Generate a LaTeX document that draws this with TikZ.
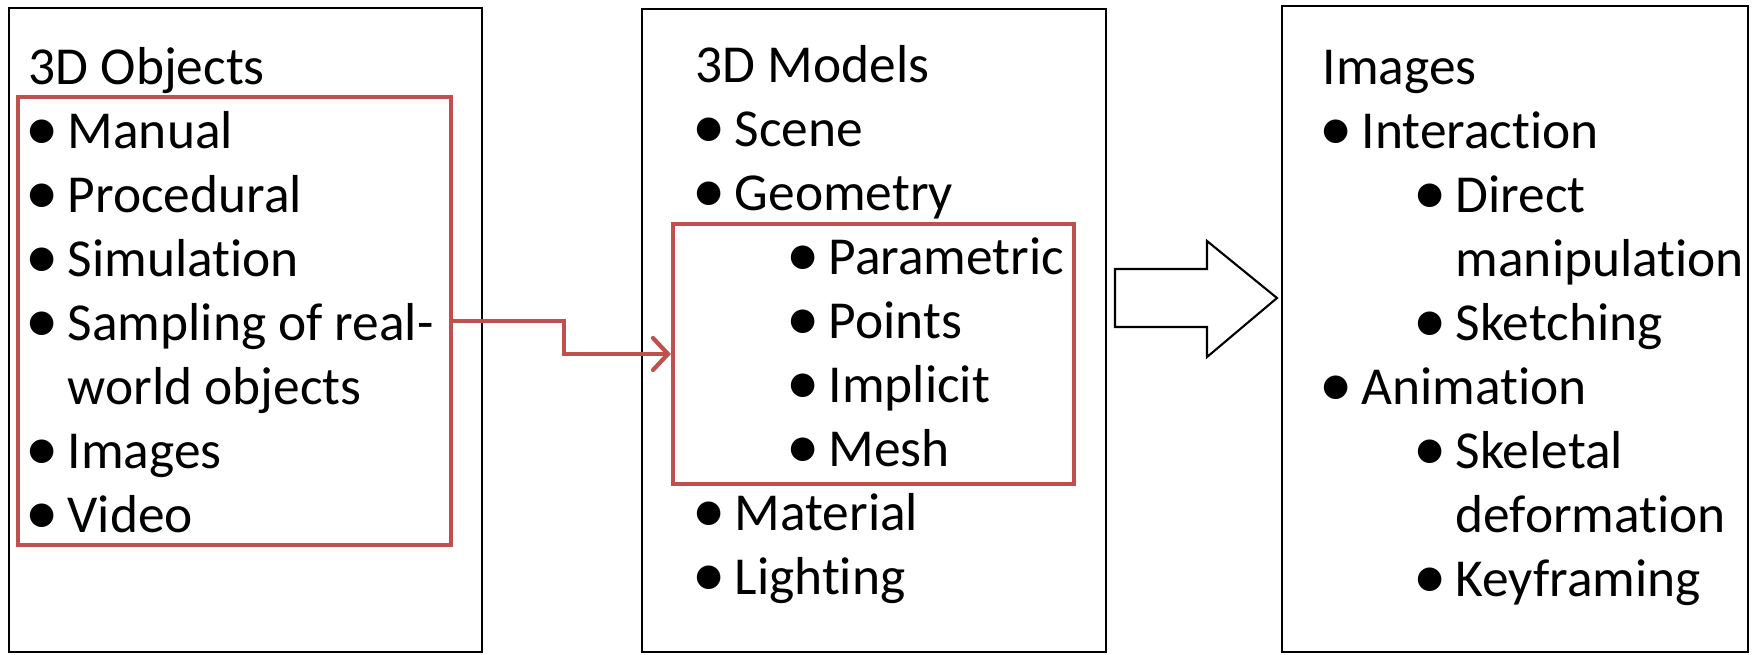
\documentclass[tikz,border=0pt]{standalone}
\usepackage{fontspec}
\setmainfont{Carlito}[Ligatures=NoCommon]
\usepackage{tikz}
\usetikzlibrary{arrows.meta,positioning,calc}

\definecolor{accent}{RGB}{192,80,77}
\newcommand{\itm}{\makebox[0.39cm][l]{\hspace*{-0.03cm}\raisebox{-0.04em}{\scalebox{1.25}{\textbullet}}}}
\newcommand{\subitm}{\hspace*{0.94cm}\itm}
\newcommand{\cont}{\hspace*{0.39cm}}
\newcommand{\subcont}{\hspace*{1.33cm}}

\begin{document}
\begin{tikzpicture}[
    panel/.style={rectangle, draw=black, line width=0.6pt, inner sep=0},
    selbox/.style={rectangle, draw=accent, line width=1.2pt, inner sep=0},
    item/.style={anchor=base west, inner sep=0, font=\fontsize{15.2}{18}\selectfont}]

    \useasboundingbox (0,0) rectangle (17.54,-6.54);

    % Panels
    \node[panel, minimum width=4.73cm, minimum height=6.44cm] (objects) at (2.455,-3.30) {};
    \node[panel, minimum width=4.64cm, minimum height=6.43cm] (models) at (8.74,-3.305) {};
    \node[panel, minimum width=4.66cm, minimum height=6.46cm] (images) at (15.15,-3.29) {};

    % Highlighted groups
    \node[selbox, minimum width=4.33cm, minimum height=4.48cm] (objsel) at (2.345,-3.21) {};
    \node[selbox, minimum width=4.01cm, minimum height=2.60cm] (geosel) at (8.735,-3.54) {};

    % 3D objects
    \foreach \txt [count=\i from 0] in {3D Objects, \itm Manual, \itm Procedural, \itm Simulation,
        \itm Sampling of real-, \cont world objects, \itm Images, \itm Video}
        \node[item, name=obj\i] at (0.28,-0.84-0.64*\i) {\txt};

    % 3D models
    \foreach \txt [count=\i from 0] in {3D Models, \itm Scene, \itm Geometry, \subitm Parametric,
        \subitm Points, \subitm Implicit, \subitm Mesh, \itm Material, \itm Lighting}
        \node[item, name=mod\i] at (6.95,-0.82-0.64*\i) {\txt};

    % Images
    \foreach \txt [count=\i from 0] in {Images, \itm Interaction, \subitm Direct, \subcont manipulation,
        \subitm Sketching, \itm Animation, \subitm Skeletal, \subcont deformation, \subitm Keyframing}
        \node[item, name=img\i] at (13.22,-0.84-0.64*\i) {\txt};

    % Connector between groups
    \draw[accent, line width=1.2pt, -{Straight Barb[length=1.5mm, width=3.2mm, line cap=round]}]
        (objsel.east) -- ++(1.11,0) |- (geosel.west);

    % Hollow block arrow
    \draw[line width=0.6pt, fill=white]
        (11.15,-2.69) -- (12.07,-2.69) -- (12.07,-2.41) -- (12.77,-2.98)
        -- (12.07,-3.57) -- (12.07,-3.27) -- (11.15,-3.27) -- cycle;
\end{tikzpicture}
\end{document}
